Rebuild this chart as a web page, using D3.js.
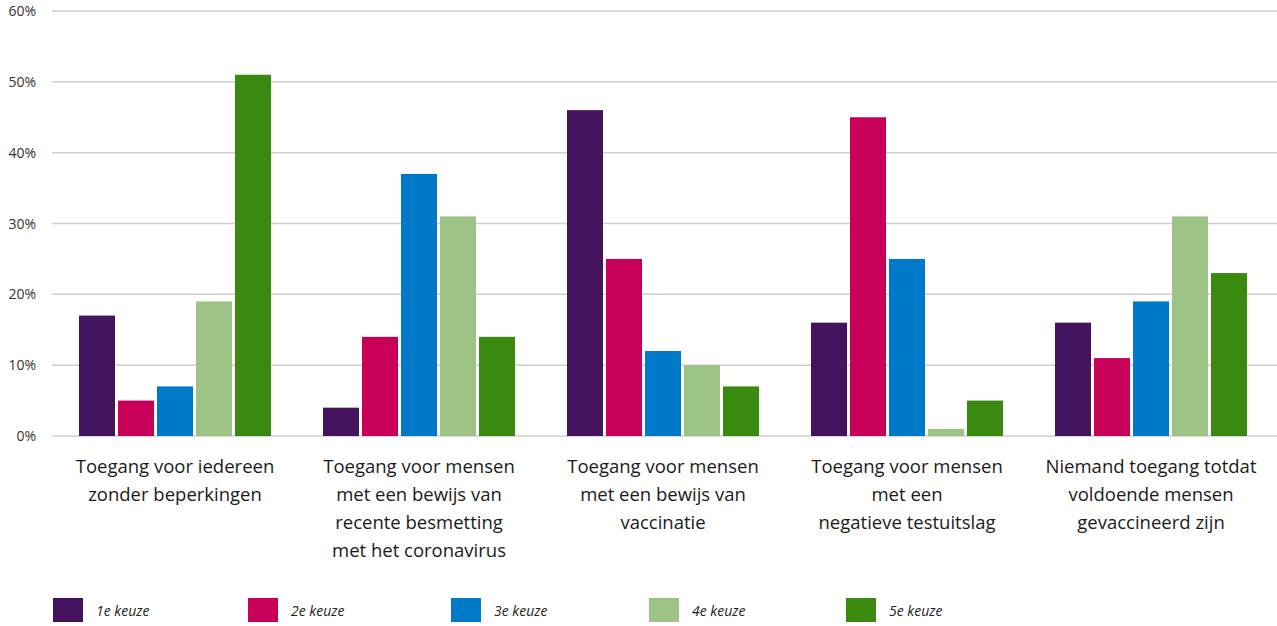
<!DOCTYPE html>
<html>
<head>
<meta charset="utf-8">
<script src="https://cdn.jsdelivr.net/npm/d3@7"></script>
<style>
  body { margin: 0; background: #fff; }
  svg { display: block; font-family: "Open Sans", sans-serif; }
  .grid line { stroke: #cfcfcf; stroke-width: 1.5; }
  .ytick { font-size: 14px; fill: #333; }
  .cat { font-size: 18.5px; fill: #1a1a1a; }
  .leg { font-size: 14px; font-style: italic; fill: #222; }
</style>
</head>
<body>
<svg id="chart" width="1277" height="626"></svg>
<script>
const categories = [
  ['Toegang voor iedereen', 'zonder beperkingen'],
  ['Toegang voor mensen', 'met een bewijs van', 'recente besmetting', 'met het coronavirus'],
  ['Toegang voor mensen', 'met een bewijs van', 'vaccinatie'],
  ['Toegang voor mensen', 'met een', 'negatieve testuitslag'],
  ['Niemand toegang totdat', 'voldoende mensen', 'gevaccineerd zijn']
];
const seriesNames = ['1e keuze', '2e keuze', '3e keuze', '4e keuze', '5e keuze'];
const colors = ['#43135e', '#c90059', '#0079c8', '#9dc486', '#3a8a0f'];
const keuze1 = [17, 4, 46, 16, 16];
const keuze2 = [5, 14, 25, 45, 11];
const keuze3 = [7, 37, 12, 25, 19];
const keuze4 = [19, 31, 10, 1, 31];
const keuze5 = [51, 14, 7, 5, 23];
const yTicks = [0, 10, 20, 30, 40, 50, 60];

const series = [keuze1, keuze2, keuze3, keuze4, keuze5];

function drawChart() {
  const svg = d3.select('#chart');
  const margin = {top: 11, left: 53};
  const width = 1277;
  const plotBottom = 436;

  const x = d3.scaleBand()
    .domain(d3.range(categories.length))
    .range([margin.left, margin.left + 244 * categories.length]);

  const y = d3.scaleLinear()
    .domain([0, 60])
    .range([plotBottom, margin.top]);

  // gridlines
  svg.append('g')
    .attr('class', 'grid')
    .selectAll('line')
    .data(yTicks)
    .join('line')
      .attr('x1', 52)
      .attr('x2', width)
      .attr('y1', d => y(d))
      .attr('y2', d => y(d));

  svg.append('g')
    .selectAll('text')
    .data(yTicks)
    .join('text')
      .attr('class', 'ytick')
      .attr('x', 36)
      .attr('y', d => y(d) + 5)
      .attr('text-anchor', 'end')
      .text(d => d + '%');

  const barW = 36, gap = 3;
  const groupW = seriesNames.length * barW + (seriesNames.length - 1) * gap;
  const xInner = d3.scaleBand()
    .domain(d3.range(seriesNames.length))
    .range([0, groupW])
    .paddingInner(gap / (barW + gap));

  const groups = svg.append('g')
    .selectAll('g')
    .data(categories)
    .join('g')
      .attr('transform', (d, i) => `translate(${x(i) + x.bandwidth() / 2 - groupW / 2},0)`);

  groups.selectAll('rect')
    .data((d, i) => series.map((s, k) => ({k, v: s[i]})))
    .join('rect')
      .attr('x', d => xInner(d.k))
      .attr('width', xInner.bandwidth())
      .attr('y', d => y(d.v))
      .attr('height', d => plotBottom - y(d.v))
      .attr('fill', d => colors[d.k]);

  // category labels
  svg.append('g')
    .selectAll('text')
    .data(categories)
    .join('text')
      .attr('class', 'cat')
      .attr('text-anchor', 'middle')
      .attr('x', (d, i) => x(i) + x.bandwidth() / 2)
      .attr('y', 473)
      .selectAll('tspan')
      .data(d => d)
      .join('tspan')
        .attr('x', function() { return this.parentNode.getAttribute('x'); })
        .attr('dy', (d, i) => i === 0 ? 0 : 28)
        .text(d => d);

  // legend
  const legX = [53, 248, 451, 649, 846];
  const leg = svg.append('g')
    .selectAll('g')
    .data(seriesNames)
    .join('g')
      .attr('transform', (d, i) => `translate(${legX[i]},598)`);

  leg.append('rect')
    .attr('width', 30)
    .attr('height', 24)
    .attr('fill', (d, i) => colors[i]);

  leg.append('text')
    .attr('class', 'leg')
    .attr('x', 43)
    .attr('y', 18)
    .text(d => d);
}

drawChart();
</script>
</body>
</html>
